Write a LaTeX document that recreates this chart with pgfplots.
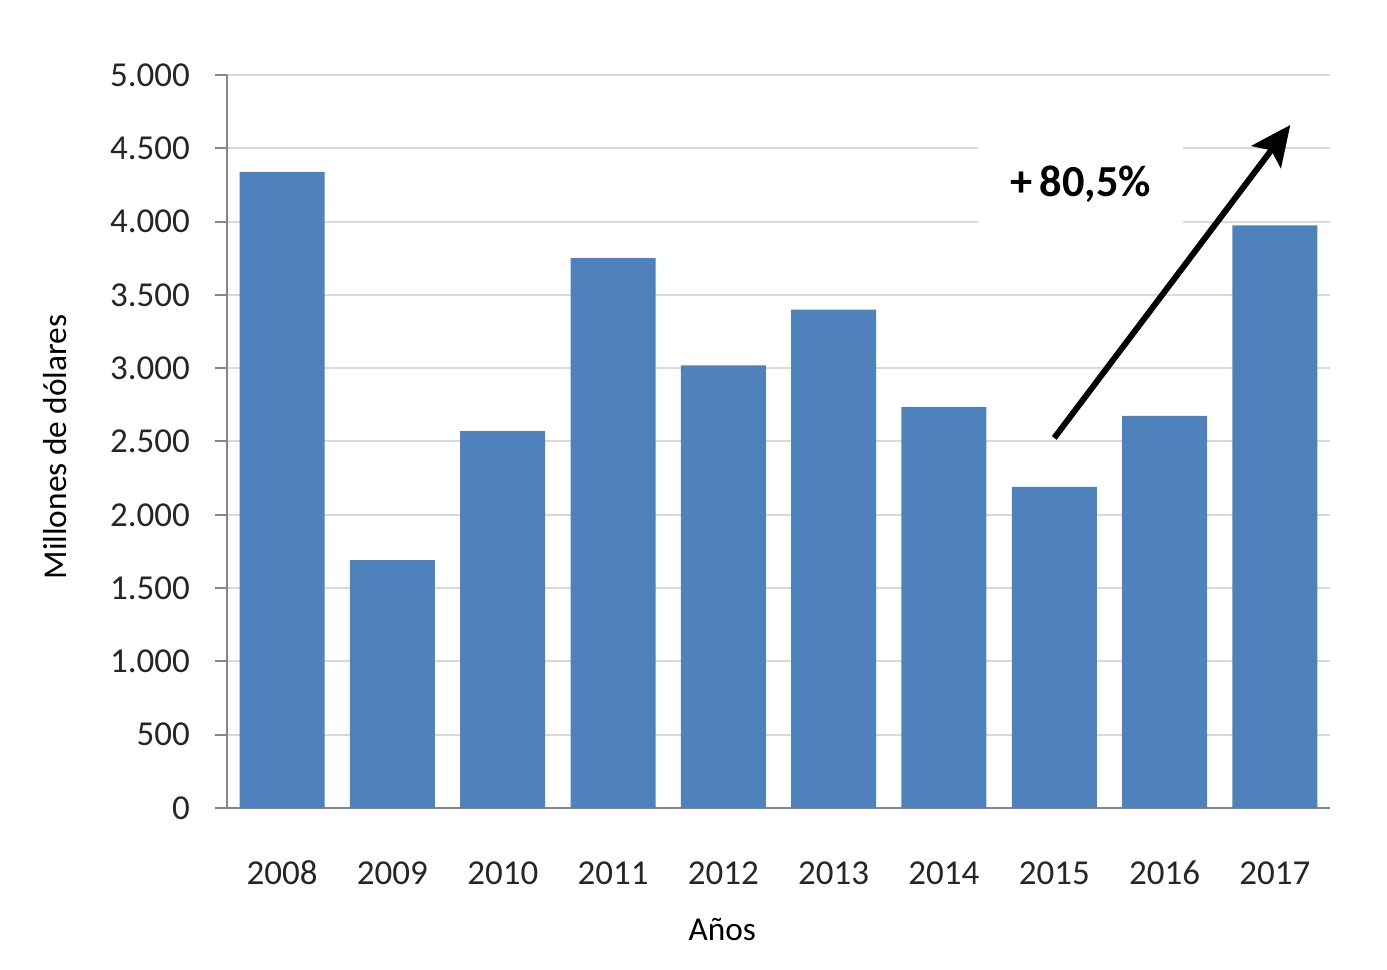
\documentclass[border=0pt]{standalone}
\usepackage{pgfplots}
\pgfplotsset{compat=1.18}
\usepackage{fontspec}
\setmainfont{Carlito}
\usetikzlibrary{arrows.meta}
\definecolor{barblue}{HTML}{4F81BD}
\definecolor{gridgray}{HTML}{D9D9D9}
\definecolor{axisgray}{HTML}{868686}
\begin{document}
\begin{tikzpicture}
\begin{axis}[
  scale only axis,
  width=330.9pt, height=219.9pt,
  xmin=-0.5, xmax=9.5, ymin=0, ymax=5000,
  axis x line*=bottom, axis y line*=left,
  axis line style={axisgray, line width=0.6pt, -},
  xtick={0,...,9},
  xticklabels={2008,2009,2010,2011,2012,2013,2014,2015,2016,2017},
  x tick style={draw=none},
  ytick={0,500,...,5000},
  y tick style={axisgray, line width=0.6pt},
  tick align=outside,
  major tick length=3.6pt,
  ymajorgrids,
  grid style={gridgray, line width=0.6pt},
  /pgf/number format/.cd, 1000 sep={.}, assume math mode=true,
  /pgfplots/.cd,
  tick label style={font=\fontsize{10.5}{12}\selectfont, text=black!85},
  yticklabel style={xshift=-4pt},
  xticklabel style={anchor=center, text height=7pt, text depth=0pt, yshift=-16pt},
  xlabel={Años},
  ylabel={Millones de dólares},
  label style={font=\fontsize{10.5}{12}\selectfont, text=black!85},
  every axis x label/.style={at={(axis description cs:0.449,0)}, anchor=center, yshift=-36.6pt},
  every axis y label/.style={at={(axis description cs:-0.156,0.4925)}, anchor=center, rotate=90},
  clip=false,
]
\addplot[ybar, bar width=25.5pt, fill=barblue, draw=none] coordinates {
  (0,4340) (1,1690) (2,2570) (3,3750) (4,3020)
  (5,3400) (6,2735) (7,2190) (8,2675) (9,3975)
};
\node[fill=white, minimum width=61.5pt, minimum height=27pt, inner sep=0pt,
  font=\fontsize{13.3}{15}\selectfont\bfseries] at (axis cs:7.24,4255) {+\,80,5\%};
\draw[line width=1.8pt, -{Stealth[length=12pt, width=11pt, inset=2.5pt]}]
  (axis cs:7.0,2524) -- (axis cs:9.14,4659);
\end{axis}
\path[use as bounding box] ([xshift=-68.1pt,yshift=-48.6pt]current axis.south west)
  rectangle ([xshift=17.1pt,yshift=22.5pt]current axis.north east);
\end{tikzpicture}
\end{document}
